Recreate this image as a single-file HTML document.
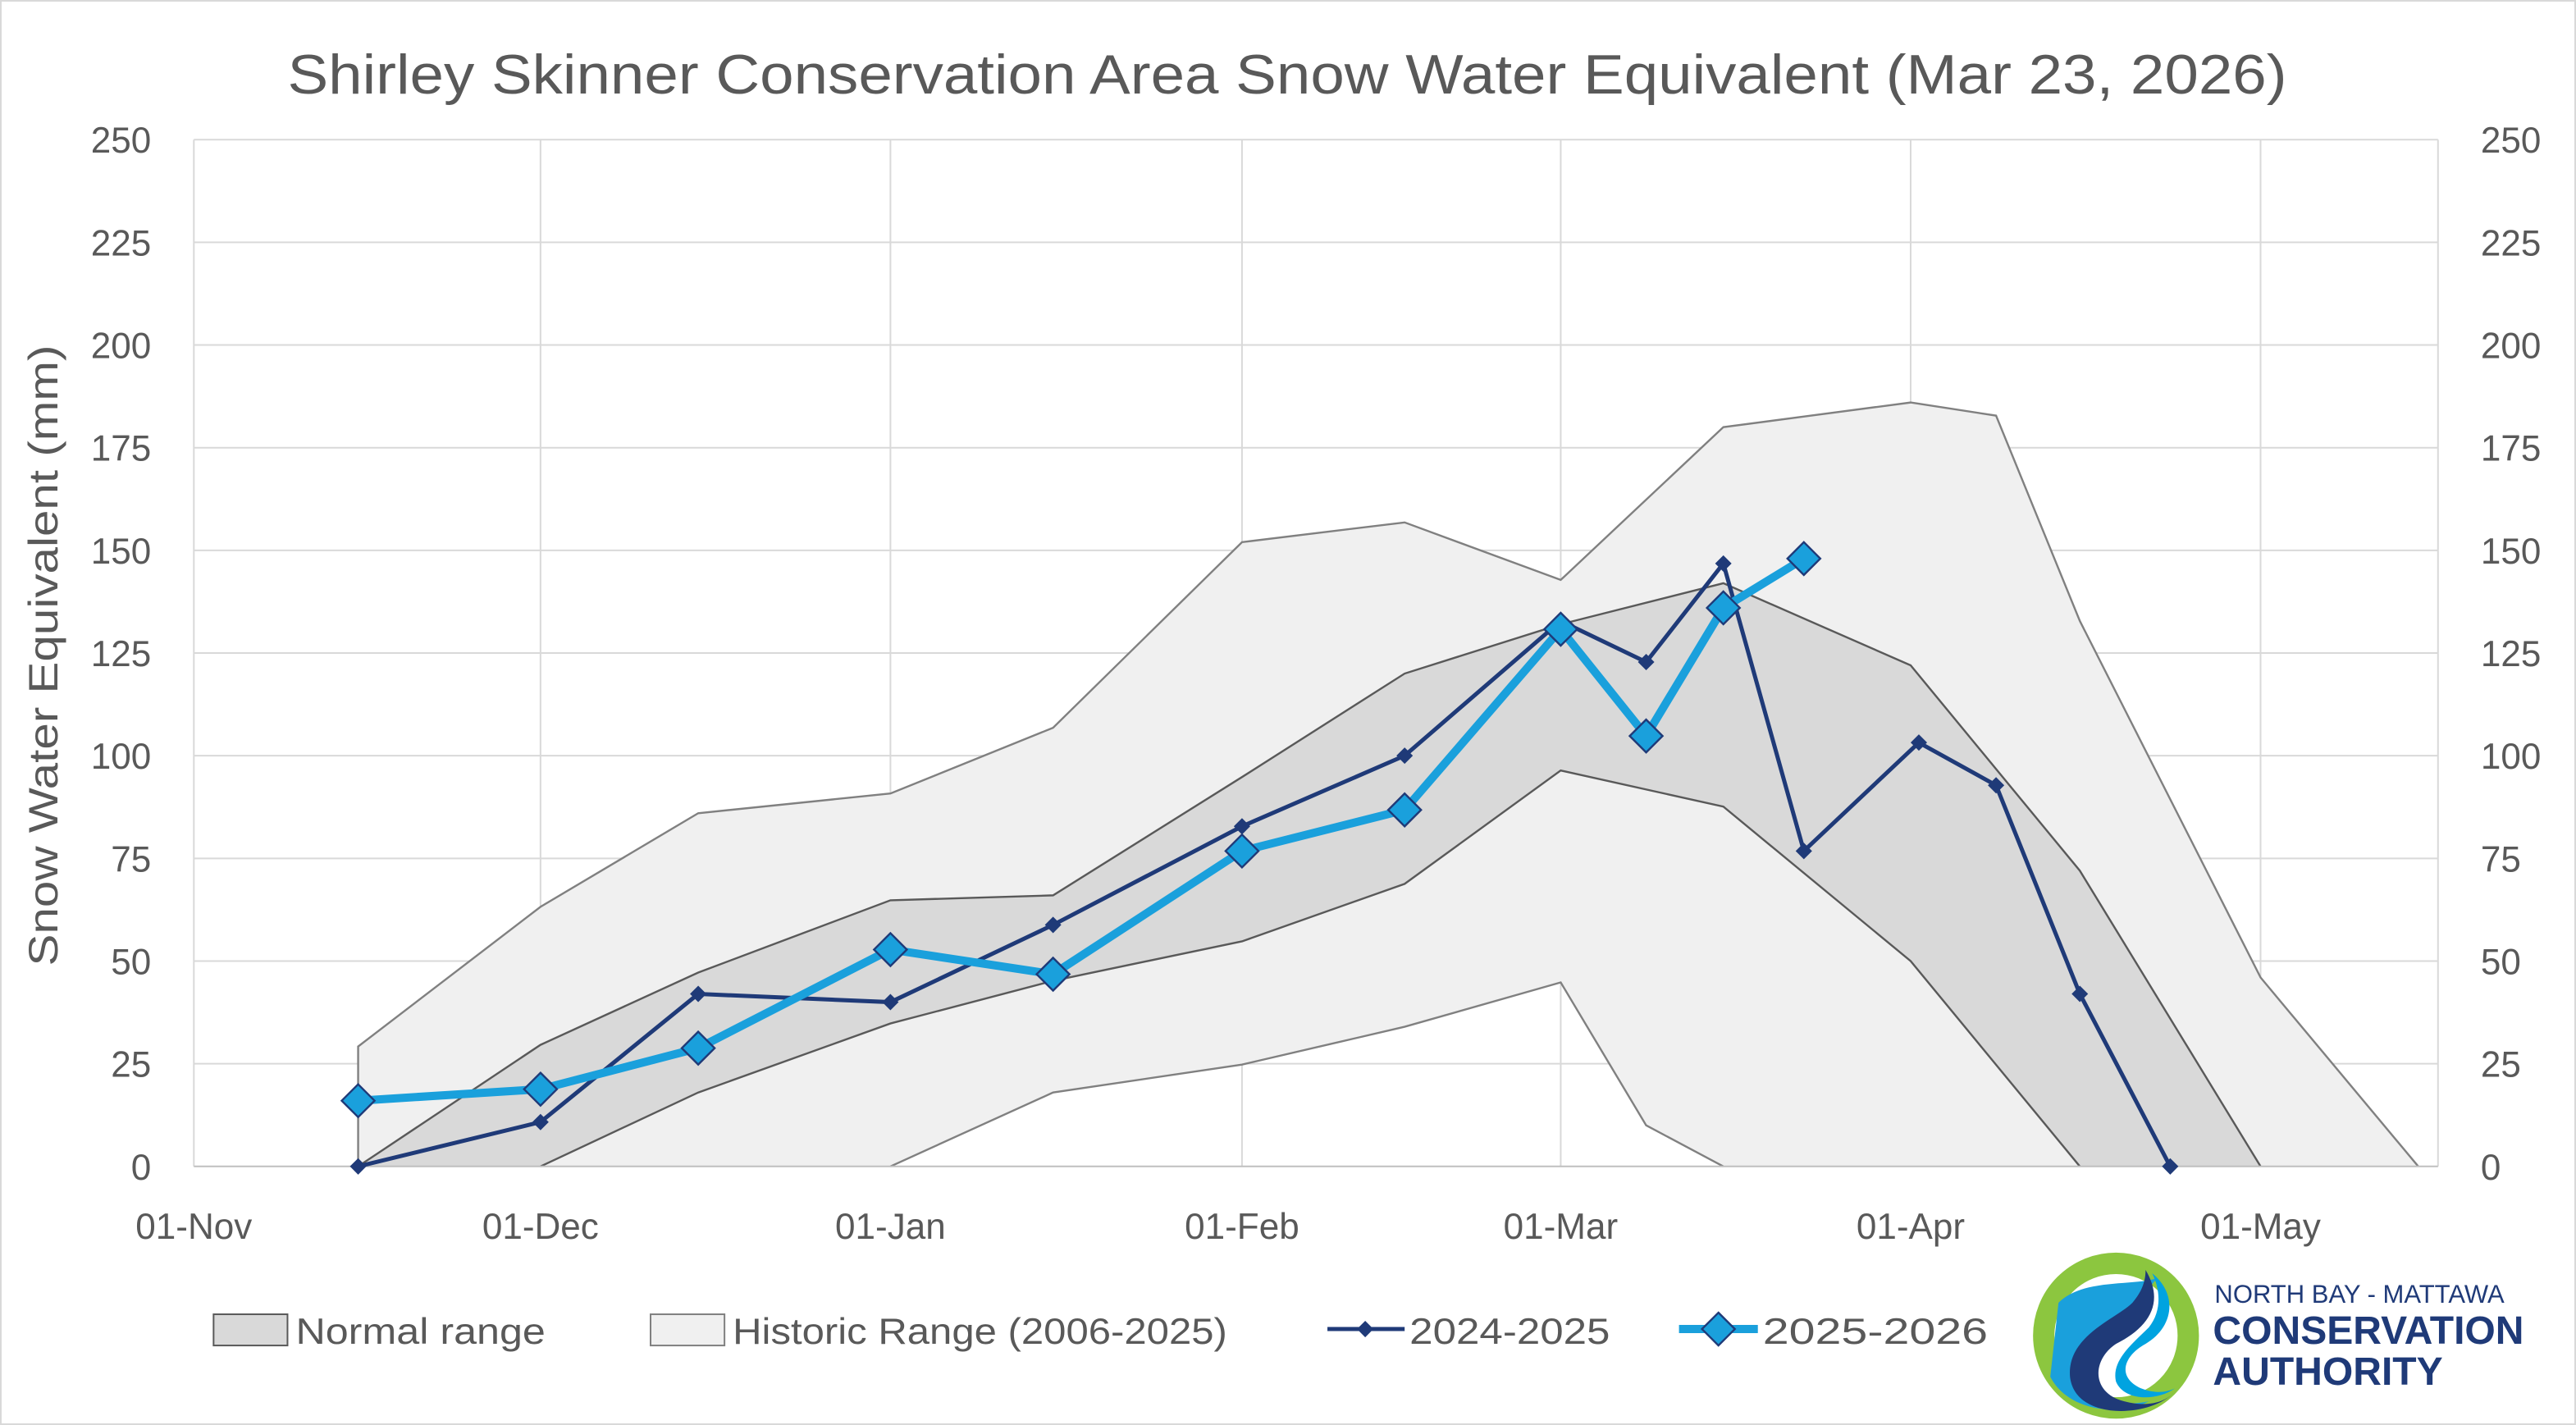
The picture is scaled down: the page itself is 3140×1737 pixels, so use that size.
<!DOCTYPE html>
<html><head><meta charset="utf-8"><style>
html,body{margin:0;padding:0;background:#fff;}
svg{display:block;}
text{font-family:"Liberation Sans",sans-serif;fill:#595959;}
</style></head><body>
<svg width="3140" height="1737" viewBox="0 0 1568 867.4" preserveAspectRatio="none" xmlns="http://www.w3.org/2000/svg">
<rect x="0.5" y="0.5" width="1567" height="866.4" fill="#fff" stroke="#d9d9d9"/>
<text x="175" y="57" font-size="34" textLength="1217" lengthAdjust="spacingAndGlyphs">Shirley Skinner Conservation Area Snow Water Equivalent (Mar 23, 2026)</text>
<g stroke="#d9d9d9" stroke-width="1">
<line x1="118" y1="85" x2="1484" y2="85"/><line x1="118" y1="147.5" x2="1484" y2="147.5"/>
<line x1="118" y1="210" x2="1484" y2="210"/><line x1="118" y1="272.5" x2="1484" y2="272.5"/>
<line x1="118" y1="335" x2="1484" y2="335"/><line x1="118" y1="397.5" x2="1484" y2="397.5"/>
<line x1="118" y1="460" x2="1484" y2="460"/><line x1="118" y1="522.5" x2="1484" y2="522.5"/>
<line x1="118" y1="585" x2="1484" y2="585"/><line x1="118" y1="647.5" x2="1484" y2="647.5"/>
<line x1="118" y1="85" x2="118" y2="710"/><line x1="329" y1="85" x2="329" y2="710"/>
<line x1="542" y1="85" x2="542" y2="710"/><line x1="756" y1="85" x2="756" y2="710"/>
<line x1="950" y1="85" x2="950" y2="710"/><line x1="1163" y1="85" x2="1163" y2="710"/>
<line x1="1376" y1="85" x2="1376" y2="710"/><line x1="1484" y1="85" x2="1484" y2="710"/>
</g>
<polygon fill="#f0f0f0" stroke="none" points="218,637 329,552 425,495 542,483 641,443 756,330 855,318 950,353 1049,260 1163,245 1215,253 1266,378 1376,595 1472,710 1049,710 1002,685 950,598 855,625 756,648 641,665 542,710 218,710"/>
<polyline fill="none" stroke="#808080" stroke-width="1.2" points="218,710 218,637 329,552 425,495 542,483 641,443 756,330 855,318 950,353 1049,260 1163,245 1215,253 1266,378 1376,595 1472,710"/>
<polyline fill="none" stroke="#808080" stroke-width="1.2" points="542,710 641,665 756,648 855,625 950,598 1002,685 1049,710"/>
<polygon fill="#d9d9d9" stroke="none" points="218,710 329,636 425,592 542,548 641,545 756,473 855,410 950,380 1049,355 1163,405 1266,530 1376,710 1266,710 1163,585 1049,491 950,469 855,538 756,573 641,597 542,623 425,665 329,710"/>
<polyline fill="none" stroke="#595959" stroke-width="1.2" points="218,710 329,636 425,592 542,548 641,545 756,473 855,410 950,380 1049,355 1163,405 1266,530 1376,710"/>
<polyline fill="none" stroke="#595959" stroke-width="1.2" points="329,710 425,665 542,623 641,597 756,573 855,538 950,469 1049,491 1163,585 1266,710"/>
<line x1="118" y1="710" x2="1484" y2="710" stroke="#bfbfbf"/>
<polyline fill="none" stroke="#1f3a78" stroke-width="2.5" points="218,710 329,683 425,605 542,610 641,563 756,503 855,460 950,378 1002,403 1049,343 1098,518 1168,452 1215,478 1266,605 1321,710"/>
<g fill="#1f3a78">
<path d="M218,705l5,5l-5,5l-5,-5z"/><path d="M329,678l5,5l-5,5l-5,-5z"/><path d="M425,600l5,5l-5,5l-5,-5z"/>
<path d="M542,605l5,5l-5,5l-5,-5z"/><path d="M641,558l5,5l-5,5l-5,-5z"/><path d="M756,498l5,5l-5,5l-5,-5z"/>
<path d="M855,455l5,5l-5,5l-5,-5z"/><path d="M950,373l5,5l-5,5l-5,-5z"/><path d="M1002,398l5,5l-5,5l-5,-5z"/>
<path d="M1049,338l5,5l-5,5l-5,-5z"/><path d="M1098,513l5,5l-5,5l-5,-5z"/><path d="M1168,447l5,5l-5,5l-5,-5z"/>
<path d="M1215,473l5,5l-5,5l-5,-5z"/><path d="M1266,600l5,5l-5,5l-5,-5z"/><path d="M1321,705l5,5l-5,5l-5,-5z"/>
</g>
<polyline fill="none" stroke="#1aa0dc" stroke-width="5" stroke-linejoin="round" points="218,670 329,663 425,638 542,578 641,593 756,518 855,493 950,383 1002,448 1049,370 1098,340"/>
<g fill="#1aa0dc" stroke="#1f3a78" stroke-width="1.2">
<path d="M218,660l10,10l-10,10l-10,-10z"/><path d="M329,653l10,10l-10,10l-10,-10z"/><path d="M425,628l10,10l-10,10l-10,-10z"/>
<path d="M542,568l10,10l-10,10l-10,-10z"/><path d="M641,583l10,10l-10,10l-10,-10z"/><path d="M756,508l10,10l-10,10l-10,-10z"/>
<path d="M855,483l10,10l-10,10l-10,-10z"/><path d="M950,373l10,10l-10,10l-10,-10z"/><path d="M1002,438l10,10l-10,10l-10,-10z"/>
<path d="M1049,360l10,10l-10,10l-10,-10z"/><path d="M1098,330l10,10l-10,10l-10,-10z"/>
</g>
<g font-size="22" text-anchor="end">
<text x="92" y="93">250</text><text x="92" y="155.5">225</text><text x="92" y="218">200</text><text x="92" y="280.5">175</text>
<text x="92" y="343">150</text><text x="92" y="405.5">125</text><text x="92" y="468">100</text><text x="92" y="530.5">75</text>
<text x="92" y="593">50</text><text x="92" y="655.5">25</text><text x="92" y="718">0</text>
</g>
<g font-size="22" text-anchor="start">
<text x="1510" y="93">250</text><text x="1510" y="155.5">225</text><text x="1510" y="218">200</text><text x="1510" y="280.5">175</text>
<text x="1510" y="343">150</text><text x="1510" y="405.5">125</text><text x="1510" y="468">100</text><text x="1510" y="530.5">75</text>
<text x="1510" y="593">50</text><text x="1510" y="655.5">25</text><text x="1510" y="718">0</text>
</g>
<text transform="translate(35,588) rotate(-90)" font-size="25" textLength="378" lengthAdjust="spacingAndGlyphs">Snow Water Equivalent (mm)</text>
<g font-size="22" text-anchor="middle">
<text x="118" y="754">01-Nov</text><text x="329" y="754">01-Dec</text><text x="542" y="754">01-Jan</text>
<text x="756" y="754">01-Feb</text><text x="950" y="754">01-Mar</text><text x="1163" y="754">01-Apr</text><text x="1376" y="754">01-May</text>
</g>
<rect x="130" y="800" width="45" height="19" fill="#d9d9d9" stroke="#595959"/>
<text x="180" y="818" font-size="22" textLength="152" lengthAdjust="spacingAndGlyphs">Normal range</text>
<rect x="396" y="800" width="45" height="19" fill="#f0f0f0" stroke="#808080"/>
<text x="446" y="818" font-size="22" textLength="301" lengthAdjust="spacingAndGlyphs">Historic Range (2006-2025)</text>
<line x1="808" y1="809" x2="855" y2="809" stroke="#1f3a78" stroke-width="2.5"/>
<path d="M831,804l5,5l-5,5l-5,-5z" fill="#1f3a78"/>
<text x="858" y="818" font-size="22" textLength="122" lengthAdjust="spacingAndGlyphs">2024-2025</text>
<line x1="1022" y1="809" x2="1070" y2="809" stroke="#1aa0dc" stroke-width="5"/>
<path d="M1046,799l10,10l-10,10l-10,-10z" fill="#1aa0dc" stroke="#1f3a78" stroke-width="1.2"/>
<text x="1073" y="818" font-size="22" textLength="137" lengthAdjust="spacingAndGlyphs">2025-2026</text>
<g transform="translate(1288,813)">
<circle r="44" fill="none" stroke="#8cc63f" stroke-width="13"/>
<path d="M-35,-20 C-20,-35 10,-30 25,-35 C5,-10 -10,0 -15,20 C-20,35 -5,45 20,40 C0,50 -30,45 -40,25 Z" fill="#1aa0dc"/>
<path d="M18,-40 C30,-20 20,-5 0,5 C-15,15 -15,35 5,40 C20,44 30,40 35,35 C20,50 -25,52 -28,25 C-30,0 0,-10 10,-20 C15,-26 18,-32 18,-40 Z" fill="#1f3a78"/>
<path d="M22,-38 C38,-25 35,-5 18,5 C5,12 0,25 15,32 C25,36 32,34 36,32 C25,40 5,40 0,28 C-3,15 10,5 20,-5 C28,-15 27,-28 22,-38 Z" fill="#00a3e0"/>
</g>
<text x="1348" y="793" font-size="15.5" style="fill:#1f3a78">NORTH BAY - MATTAWA</text>
<text x="1347" y="818" font-size="24" font-weight="bold" style="fill:#1f3a78">CONSERVATION</text>
<text x="1347" y="843" font-size="24" font-weight="bold" style="fill:#1f3a78">AUTHORITY</text>
</svg>
</body></html>
